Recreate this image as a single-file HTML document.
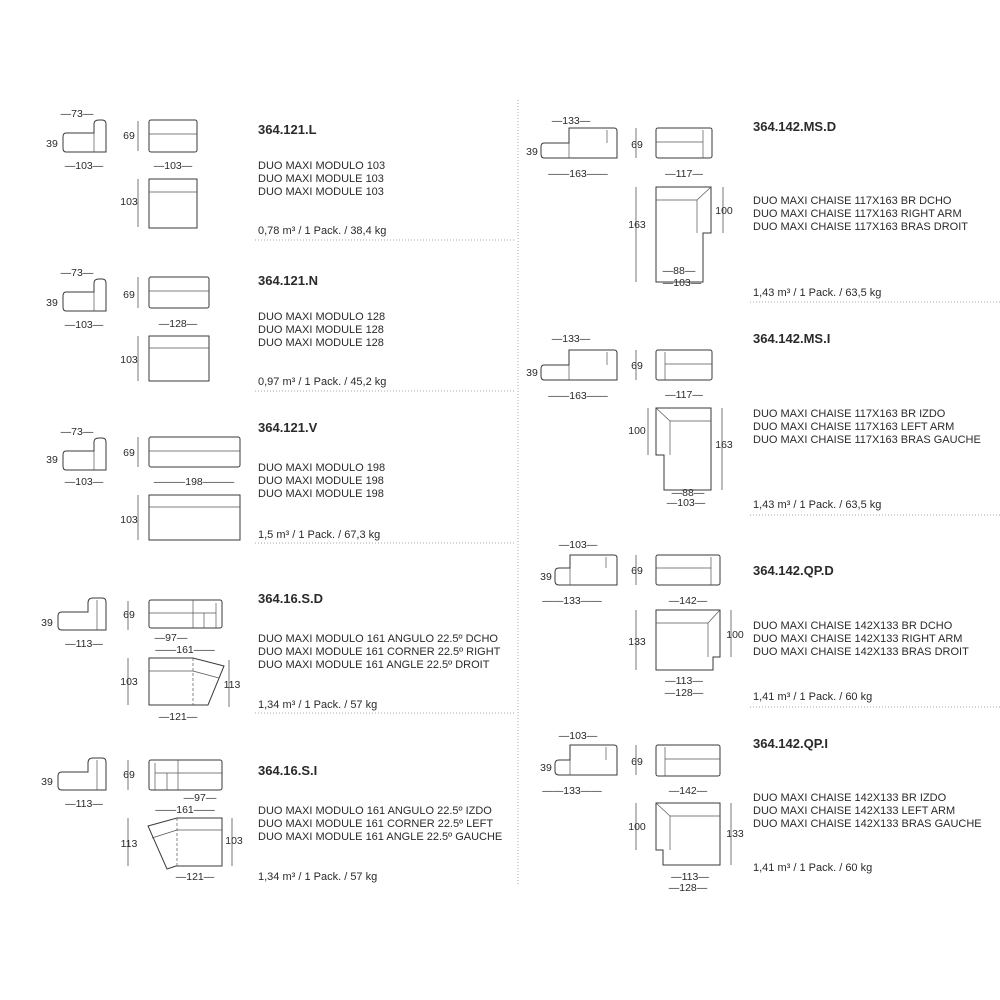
<!DOCTYPE html>
<html><head><meta charset="utf-8"><style>
html,body{margin:0;padding:0;background:#fff}
svg{display:block}
.l{stroke:#3a3a3a;stroke-width:1;fill:none}
.f{stroke:#555;stroke-width:.7;fill:none}
.d{stroke:#555;stroke-width:.8;fill:none}
text{font-family:"Liberation Sans",sans-serif;fill:#2a2a2a}
.dim{font-size:10.5px}
.t{font-size:13px;font-weight:bold}
.s{font-size:11px}
.dot{stroke:#aaa;stroke-width:1;stroke-dasharray:1 2}
</style></head><body>
<svg width="1000" height="1000" viewBox="0 0 1000 1000">
<line class="dot" x1="518" y1="100" x2="518" y2="885"/>

<!-- LEFT 1: 364.121.L -->
<g>
<text class="dim" x="77" y="117" text-anchor="middle">—73—</text>
<path class="l" d="M66 133 H94 V124 Q94 120 99 120 H102 Q106 120 106 124 V152 H66 Q63 152 63 148 V137 Q63 133 66 133 Z"/>
<line class="f" x1="94" y1="133" x2="94" y2="152"/>
<text class="dim" x="52" y="147" text-anchor="middle">39</text>
<text class="dim" x="84" y="169" text-anchor="middle">—103—</text>
<line class="d" x1="138" y1="121" x2="138" y2="151"/><text class="dim" x="129" y="139" text-anchor="middle">69</text>
<rect class="l" x="149" y="120" width="48" height="32" rx="2"/><line class="f" x1="149" y1="134" x2="197" y2="134"/>
<text class="dim" x="173" y="169" text-anchor="middle">—103—</text>
<line class="d" x1="138" y1="179" x2="138" y2="227"/><text class="dim" x="129" y="205" text-anchor="middle">103</text>
<rect class="l" x="149" y="179" width="48" height="49"/><line class="f" x1="149" y1="192" x2="197" y2="192"/>
<text class="t" x="258" y="134">364.121.L</text>
<text class="s" x="258" y="169">DUO MAXI MODULO 103</text>
<text class="s" x="258" y="182">DUO MAXI MODULE 103</text>
<text class="s" x="258" y="195">DUO MAXI MODULE 103</text>
<text class="s" x="258" y="234">0,78 m³ / 1 Pack. / 38,4 kg</text>
<line class="dot" x1="255" y1="240" x2="515" y2="240"/>
</g>

<!-- LEFT 2: 364.121.N -->
<g transform="translate(0,151)">
<g transform="translate(0,8)">
<text class="dim" x="77" y="117" text-anchor="middle">—73—</text>
<path class="l" d="M66 133 H94 V124 Q94 120 99 120 H102 Q106 120 106 124 V152 H66 Q63 152 63 148 V137 Q63 133 66 133 Z"/>
<line class="f" x1="94" y1="133" x2="94" y2="152"/>
<text class="dim" x="52" y="147" text-anchor="middle">39</text>
<text class="dim" x="84" y="169" text-anchor="middle">—103—</text>
</g>
<line class="d" x1="138" y1="126" x2="138" y2="157"/><text class="dim" x="129" y="147" text-anchor="middle">69</text>
<rect class="l" x="149" y="126" width="60" height="31" rx="2"/><line class="f" x1="149" y1="140" x2="209" y2="140"/>
<text class="dim" x="178" y="176" text-anchor="middle">—128—</text>
<line class="d" x1="138" y1="185" x2="138" y2="230"/><text class="dim" x="129" y="212" text-anchor="middle">103</text>
<rect class="l" x="149" y="185" width="60" height="45"/><line class="f" x1="149" y1="197" x2="209" y2="197"/>
<text class="t" x="258" y="134">364.121.N</text>
<text class="s" x="258" y="169">DUO MAXI MODULO 128</text>
<text class="s" x="258" y="182">DUO MAXI MODULE 128</text>
<text class="s" x="258" y="195">DUO MAXI MODULE 128</text>
<text class="s" x="258" y="234">0,97 m³ / 1 Pack. / 45,2 kg</text>
<line class="dot" x1="255" y1="240" x2="515" y2="240"/>
</g>

<!-- LEFT 3: 364.121.V -->
<g transform="translate(0,301)">
<text class="dim" x="77" y="134" text-anchor="middle">—73—</text>
<path class="l" d="M66 150 H94 V141 Q94 137 99 137 H102 Q106 137 106 141 V169 H66 Q63 169 63 165 V154 Q63 150 66 150 Z"/>
<line class="f" x1="94" y1="150" x2="94" y2="169"/>
<text class="dim" x="52" y="162" text-anchor="middle">39</text>
<text class="dim" x="84" y="184" text-anchor="middle">—103—</text>
<line class="d" x1="138" y1="136" x2="138" y2="166"/><text class="dim" x="129" y="155" text-anchor="middle">69</text>
<rect class="l" x="149" y="136" width="91" height="30" rx="2"/><line class="f" x1="149" y1="150" x2="240" y2="150"/>
<text class="dim" x="194" y="184" text-anchor="middle">———198———</text>
<line class="d" x1="138" y1="194" x2="138" y2="239"/><text class="dim" x="129" y="222" text-anchor="middle">103</text>
<rect class="l" x="149" y="194" width="91" height="45"/><line class="f" x1="149" y1="206" x2="240" y2="206"/>
<text class="t" x="258" y="131">364.121.V</text>
<text class="s" x="258" y="170">DUO MAXI MODULO 198</text>
<text class="s" x="258" y="183">DUO MAXI MODULE 198</text>
<text class="s" x="258" y="196">DUO MAXI MODULE 198</text>
<text class="s" x="258" y="237">1,5 m³ / 1 Pack. / 67,3 kg</text>
<line class="dot" x1="255" y1="242" x2="515" y2="242"/>
</g>

<!-- LEFT 4: 364.16.S.D -->
<g>
<path class="l" d="M62 612 H88 V603 Q88 598 93 598 H102 Q106 598 106 602 V630 H62 Q58 630 58 626 V616 Q58 612 62 612 Z"/>
<line class="f" x1="97" y1="600" x2="97" y2="630"/>
<text class="dim" x="47" y="626" text-anchor="middle">39</text>
<text class="dim" x="84" y="647" text-anchor="middle">—113—</text>
<line class="d" x1="128" y1="601" x2="128" y2="630"/><text class="dim" x="129" y="618" text-anchor="middle">69</text>
<rect class="l" x="149" y="600" width="73" height="28" rx="2"/>
<line class="f" x1="149" y1="613" x2="216" y2="613"/><line class="f" x1="193" y1="600" x2="193" y2="628"/><line class="f" x1="204" y1="613" x2="204" y2="628"/><line class="f" x1="216" y1="603" x2="216" y2="628"/>
<text class="dim" x="171" y="641" text-anchor="middle">—97—</text>
<text class="dim" x="185" y="653" text-anchor="middle">——161——</text>
<line class="d" x1="128" y1="658" x2="128" y2="705"/><text class="dim" x="129" y="685" text-anchor="middle">103</text>
<path class="l" d="M149 658 H193 L224 666 L208 705 H149 Z"/>
<line class="f" x1="149" y1="671" x2="193" y2="671"/><line class="f" x1="193" y1="671" x2="219" y2="678"/><line class="f" x1="193" y1="658" x2="193" y2="705" stroke-dasharray="3 2"/>
<line class="d" x1="229" y1="660" x2="229" y2="707"/><text class="dim" x="232" y="688" text-anchor="middle">113</text>
<text class="dim" x="178" y="720" text-anchor="middle">—121—</text>
<text class="t" x="258" y="603">364.16.S.D</text>
<text class="s" x="258" y="642">DUO MAXI MODULO 161 ANGULO 22.5º DCHO</text>
<text class="s" x="258" y="655">DUO MAXI MODULE 161 CORNER 22.5º RIGHT</text>
<text class="s" x="258" y="668">DUO MAXI MODULE 161 ANGLE 22.5º DROIT</text>
<text class="s" x="258" y="708">1,34 m³ / 1 Pack. / 57 kg</text>
<line class="dot" x1="255" y1="713" x2="515" y2="713"/>
</g>

<!-- LEFT 5: 364.16.S.I -->
<g>
<path class="l" d="M62 772 H88 V763 Q88 758 93 758 H102 Q106 758 106 762 V790 H62 Q58 790 58 786 V776 Q58 772 62 772 Z"/>
<line class="f" x1="97" y1="760" x2="97" y2="790"/>
<text class="dim" x="47" y="785" text-anchor="middle">39</text>
<text class="dim" x="84" y="807" text-anchor="middle">—113—</text>
<line class="d" x1="128" y1="760" x2="128" y2="790"/><text class="dim" x="129" y="778" text-anchor="middle">69</text>
<rect class="l" x="149" y="760" width="73" height="30" rx="2"/>
<line class="f" x1="155" y1="773" x2="222" y2="773"/><line class="f" x1="178" y1="760" x2="178" y2="790"/><line class="f" x1="167" y1="773" x2="167" y2="790"/><line class="f" x1="155" y1="763" x2="155" y2="790"/>
<text class="dim" x="200" y="801" text-anchor="middle">—97—</text>
<text class="dim" x="185" y="813" text-anchor="middle">——161——</text>
<line class="d" x1="128" y1="818" x2="128" y2="866"/><text class="dim" x="129" y="847" text-anchor="middle">113</text>
<path class="l" d="M148 826 L177 818 H222 V866 H176 L167 869 Z"/>
<line class="f" x1="177" y1="830" x2="222" y2="830"/><line class="f" x1="152" y1="838" x2="177" y2="830"/><line class="f" x1="177" y1="818" x2="177" y2="866" stroke-dasharray="3 2"/>
<line class="d" x1="232" y1="818" x2="232" y2="866"/><text class="dim" x="234" y="844" text-anchor="middle">103</text>
<text class="dim" x="195" y="880" text-anchor="middle">—121—</text>
<text class="t" x="258" y="775">364.16.S.I</text>
<text class="s" x="258" y="814">DUO MAXI MODULO 161 ANGULO 22.5º IZDO</text>
<text class="s" x="258" y="827">DUO MAXI MODULE 161 CORNER 22.5º LEFT</text>
<text class="s" x="258" y="840">DUO MAXI MODULE 161 ANGLE 22.5º GAUCHE</text>
<text class="s" x="258" y="880">1,34 m³ / 1 Pack. / 57 kg</text>
</g>

<!-- RIGHT 1: 364.142.MS.D -->
<g>
<text class="dim" x="571" y="124" text-anchor="middle">—133—</text>
<path class="l" d="M544 143 H569 V128 H614 Q617 128 617 131 V158 H544 Q541 158 541 154 V147 Q541 143 544 143 Z"/>
<line class="f" x1="569" y1="143" x2="569" y2="158"/><line class="f" x1="607" y1="130" x2="607" y2="143"/>
<text class="dim" x="532" y="155" text-anchor="middle">39</text>
<text class="dim" x="578" y="177" text-anchor="middle">——163——</text>
<line class="d" x1="636" y1="128" x2="636" y2="158"/><text class="dim" x="637" y="148" text-anchor="middle">69</text>
<rect class="l" x="656" y="128" width="56" height="30" rx="2"/><line class="f" x1="656" y1="142" x2="703" y2="142"/><line class="f" x1="703" y1="130" x2="703" y2="158"/>
<text class="dim" x="684" y="177" text-anchor="middle">—117—</text>
<line class="d" x1="636" y1="187" x2="636" y2="282"/><text class="dim" x="637" y="228" text-anchor="middle">163</text>
<path class="l" d="M656 187 H711 V233 H703 V282 H656 Z"/>
<path class="f" d="M656 200 H697 V233 M697 200 L711 187"/>
<line class="d" x1="723" y1="187" x2="723" y2="233"/><text class="dim" x="724" y="214" text-anchor="middle">100</text>
<text class="dim" x="679" y="274" text-anchor="middle">—88—</text>
<text class="dim" x="682" y="286" text-anchor="middle">—103—</text>
<text class="t" x="753" y="131">364.142.MS.D</text>
<text class="s" x="753" y="204">DUO MAXI CHAISE 117X163 BR DCHO</text>
<text class="s" x="753" y="217">DUO MAXI CHAISE 117X163 RIGHT ARM</text>
<text class="s" x="753" y="230">DUO MAXI CHAISE 117X163 BRAS DROIT</text>
<text class="s" x="753" y="296">1,43 m³ / 1 Pack. / 63,5 kg</text>
<line class="dot" x1="750" y1="302" x2="1000" y2="302"/>
</g>

<!-- RIGHT 2: 364.142.MS.I -->
<g>
<text class="dim" x="571" y="342" text-anchor="middle">—133—</text>
<path class="l" d="M544 365 H569 V350 H614 Q617 350 617 353 V380 H544 Q541 380 541 376 V369 Q541 365 544 365 Z"/>
<line class="f" x1="569" y1="365" x2="569" y2="380"/><line class="f" x1="607" y1="352" x2="607" y2="365"/>
<text class="dim" x="532" y="376" text-anchor="middle">39</text>
<text class="dim" x="578" y="399" text-anchor="middle">——163——</text>
<line class="d" x1="636" y1="350" x2="636" y2="380"/><text class="dim" x="637" y="369" text-anchor="middle">69</text>
<rect class="l" x="656" y="350" width="56" height="30" rx="2"/><line class="f" x1="665" y1="364" x2="712" y2="364"/><line class="f" x1="665" y1="352" x2="665" y2="380"/>
<text class="dim" x="684" y="398" text-anchor="middle">—117—</text>
<line class="d" x1="648" y1="408" x2="648" y2="455"/><text class="dim" x="637" y="434" text-anchor="middle">100</text>
<path class="l" d="M656 408 H711 V490 H664 V455 H656 Z"/>
<path class="f" d="M711 421 H670 V455 M670 421 L656 408"/>
<line class="d" x1="722" y1="408" x2="722" y2="490"/><text class="dim" x="724" y="448" text-anchor="middle">163</text>
<text class="dim" x="688" y="496" text-anchor="middle">—88—</text>
<text class="dim" x="686" y="506" text-anchor="middle">—103—</text>
<text class="t" x="753" y="343">364.142.MS.I</text>
<text class="s" x="753" y="417">DUO MAXI CHAISE 117X163 BR IZDO</text>
<text class="s" x="753" y="430">DUO MAXI CHAISE 117X163 LEFT ARM</text>
<text class="s" x="753" y="443">DUO MAXI CHAISE 117X163 BRAS GAUCHE</text>
<text class="s" x="753" y="508">1,43 m³ / 1 Pack. / 63,5 kg</text>
<line class="dot" x1="750" y1="515" x2="1000" y2="515"/>
</g>

<!-- RIGHT 3: 364.142.QP.D -->
<g>
<text class="dim" x="578" y="548" text-anchor="middle">—103—</text>
<path class="l" d="M559 568 H570 V555 H614 Q617 555 617 558 V585 H559 Q555 585 555 581 V572 Q555 568 559 568 Z"/>
<line class="f" x1="570" y1="568" x2="570" y2="585"/><line class="f" x1="606" y1="557" x2="606" y2="568"/>
<text class="dim" x="546" y="580" text-anchor="middle">39</text>
<text class="dim" x="572" y="604" text-anchor="middle">——133——</text>
<line class="d" x1="636" y1="555" x2="636" y2="585"/><text class="dim" x="637" y="574" text-anchor="middle">69</text>
<rect class="l" x="656" y="555" width="64" height="30" rx="2"/><line class="f" x1="656" y1="568" x2="711" y2="568"/><line class="f" x1="711" y1="557" x2="711" y2="585"/>
<text class="dim" x="688" y="604" text-anchor="middle">—142—</text>
<line class="d" x1="636" y1="610" x2="636" y2="670"/><text class="dim" x="637" y="645" text-anchor="middle">133</text>
<path class="l" d="M656 610 H720 V657 H713 V670 H656 Z"/>
<path class="f" d="M656 623 H708 V657 M708 623 L720 610"/>
<line class="d" x1="731" y1="610" x2="731" y2="657"/><text class="dim" x="735" y="638" text-anchor="middle">100</text>
<text class="dim" x="684" y="684" text-anchor="middle">—113—</text>
<text class="dim" x="684" y="696" text-anchor="middle">—128—</text>
<text class="t" x="753" y="575">364.142.QP.D</text>
<text class="s" x="753" y="629">DUO MAXI CHAISE 142X133 BR DCHO</text>
<text class="s" x="753" y="642">DUO MAXI CHAISE 142X133 RIGHT ARM</text>
<text class="s" x="753" y="655">DUO MAXI CHAISE 142X133 BRAS DROIT</text>
<text class="s" x="753" y="700">1,41 m³ / 1 Pack. / 60 kg</text>
<line class="dot" x1="750" y1="707" x2="1000" y2="707"/>
</g>

<!-- RIGHT 4: 364.142.QP.I -->
<g>
<text class="dim" x="578" y="739" text-anchor="middle">—103—</text>
<path class="l" d="M559 760 H570 V745 H614 Q617 745 617 748 V775 H559 Q555 775 555 771 V764 Q555 760 559 760 Z"/>
<line class="f" x1="570" y1="760" x2="570" y2="775"/><line class="f" x1="606" y1="747" x2="606" y2="760"/>
<text class="dim" x="546" y="771" text-anchor="middle">39</text>
<text class="dim" x="572" y="794" text-anchor="middle">——133——</text>
<line class="d" x1="636" y1="745" x2="636" y2="775"/><text class="dim" x="637" y="765" text-anchor="middle">69</text>
<rect class="l" x="656" y="745" width="64" height="31" rx="2"/><line class="f" x1="665" y1="759" x2="720" y2="759"/><line class="f" x1="665" y1="747" x2="665" y2="776"/>
<text class="dim" x="688" y="794" text-anchor="middle">—142—</text>
<line class="d" x1="636" y1="803" x2="636" y2="850"/><text class="dim" x="637" y="830" text-anchor="middle">100</text>
<path class="l" d="M656 803 H720 V865 H663 V850 H656 Z"/>
<path class="f" d="M720 816 H670 V850 M670 816 L656 803"/>
<line class="d" x1="731" y1="803" x2="731" y2="865"/><text class="dim" x="735" y="837" text-anchor="middle">133</text>
<text class="dim" x="690" y="880" text-anchor="middle">—113—</text>
<text class="dim" x="688" y="891" text-anchor="middle">—128—</text>
<text class="t" x="753" y="748">364.142.QP.I</text>
<text class="s" x="753" y="801">DUO MAXI CHAISE 142X133 BR IZDO</text>
<text class="s" x="753" y="814">DUO MAXI CHAISE 142X133 LEFT ARM</text>
<text class="s" x="753" y="827">DUO MAXI CHAISE 142X133 BRAS GAUCHE</text>
<text class="s" x="753" y="871">1,41 m³ / 1 Pack. / 60 kg</text>
</g>
</svg>
</body></html>
